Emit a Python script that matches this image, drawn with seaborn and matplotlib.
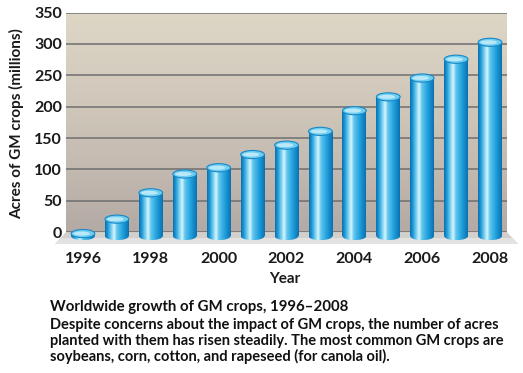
import matplotlib
import matplotlib.pyplot as plt
import matplotlib.transforms as mtransforms
import numpy as np
import seaborn as sns
from matplotlib.colors import LinearSegmentedColormap
from matplotlib.patches import Ellipse, Polygon

matplotlib.use("Agg")

# ---------------------------------------------------------------------------
# Data
# ---------------------------------------------------------------------------
YEARS = ["1996", "1997", "1998", "1999", "2000", "2001", "2002",
         "2003", "2004", "2005", "2006", "2007", "2008"]
ACRES = [4, 27, 69, 99, 109, 130, 145, 167, 200, 222, 252, 282, 309]
X_LABELS = ["1996", "", "1998", "", "2000", "", "2002",
            "", "2004", "", "2006", "", "2008"]
Y_TICKS = [0, 50, 100, 150, 200, 250, 300, 350]

CAPTION_TITLE = "Worldwide growth of GM crops, 1996\u20132008"
CAPTION_LINES = [
    "Despite concerns about the impact of GM crops, the number of acres",
    "planted with them has risen steadily. The most common GM crops are",
    "soybeans, corn, cotton, and rapeseed (for canola oil).",
]

W, H = 523, 373
FONT = ["Lato", "DejaVu Sans"]

sns.set_style("white")
plt.rcParams["font.family"] = FONT

fig = plt.figure(figsize=(W / 100, H / 100), dpi=100)
# axes: 350 line at y=12.6px, 0 line at 232px, floor front at 244px, x 66..507
ax = fig.add_axes([66 / W, (H - 244) / H, 441 / W, 231.4 / H])

# back wall gradient
wall_cmap = LinearSegmentedColormap.from_list("wall", ["#ded7c6", "#cdc4b8", "#b4aaa5"])
grad = np.linspace(0, 1, 256).reshape(-1, 1)
ax.imshow(grad, extent=(-0.5, 12.5, 0, 350), origin="upper", aspect="auto",
          cmap=wall_cmap, zorder=0)

for t in Y_TICKS:
    ax.axhline(t, color="#6f6f6f", lw=1.1, zorder=1)

# bars
sns.barplot(x=YEARS, y=ACRES, width=0.7, color="#27a9e1", ax=ax, zorder=3)
bars = list(ax.patches)

# floor (trapezoid in front of the wall)
blend = mtransforms.blended_transform_factory(ax.transAxes, ax.transData)
dx = 11 / 441
ax.add_patch(Polygon([(0, 0), (1, 0), (1 + dx, -19), (-dx, -19)], closed=True,
                     transform=blend, facecolor="#d3cfcb", edgecolor="none",
                     zorder=1.5, clip_on=False))
ax.add_patch(Polygon([(-dx * 0.5, -9.5), (1 + dx * 0.5, -9.5), (1 + dx, -19), (-dx, -19)],
                     closed=True, transform=blend, facecolor="#e4e2e0",
                     edgecolor="none", zorder=1.6, clip_on=False))

# cylinder look: bars stand on the floor, a few px in front of the wall
shift = ax.transData + mtransforms.ScaledTranslation(0, -4 / 100, fig.dpi_scale_trans)
body_cmap = LinearSegmentedColormap.from_list(
    "body",
    [(0.0, "#0b6fae"), (0.12, "#1f9ad8"), (0.28, "#86d6f3"), (0.38, "#d8f5fd"),
     (0.5, "#60c6ee"), (0.75, "#1fa0dc"), (1.0, "#0a70b1")],
)
row = np.linspace(0, 1, 200).reshape(1, -1)
eh = 13  # ellipse height in data units (~8 px)

for p in bars:
    x0, w, h = p.get_x(), p.get_width(), p.get_height()
    cx = x0 + w / 2
    p.set_transform(shift)
    p.set_facecolor("none")
    p.set_edgecolor("none")

    body = ax.imshow(row, extent=(x0, x0 + w, 0, h), aspect="auto",
                     cmap=body_cmap, zorder=3, transform=shift)
    body.set_clip_path(p)

    base = Ellipse((cx, 0), w, eh, transform=shift, facecolor="none",
                   edgecolor="none", zorder=3)
    ax.add_patch(base)
    bottom = ax.imshow(row, extent=(x0, x0 + w, -eh / 2, eh / 2), aspect="auto",
                       cmap=body_cmap, zorder=2.9, transform=shift)
    bottom.set_clip_path(base)

    ax.add_patch(Ellipse((cx, h), w, eh, transform=shift, facecolor="#6fcdf0",
                         edgecolor="#1788c8", lw=0.8, zorder=5))
    ax.add_patch(Ellipse((cx - w * 0.06, h), w * 0.7, eh * 0.5, transform=shift,
                         facecolor="#b9e9f8", edgecolor="none", zorder=5.1))

ax.set_xlim(-0.5, 12.5)
ax.set_ylim(-19, 350)
ax.set_yticks(Y_TICKS)
ax.set_yticklabels([str(t) for t in Y_TICKS], fontsize=11.5, fontweight="bold",
                   color="#1a1a1a")
ax.set_xticks(range(len(YEARS)))
ax.set_xticklabels(X_LABELS, fontsize=11.5, fontweight="bold", color="#1a1a1a")
ax.tick_params(axis="y", length=0, pad=3)
ax.tick_params(axis="x", length=0, pad=6)
ax.set_xlabel("")
ax.set_ylabel("")
sns.despine(ax=ax, left=True, bottom=True)

fig.text(17 / W, 1 - 124 / H, "Acres of GM crops (millions)", rotation=90,
         ha="center", va="center", fontsize=11, fontweight="bold", color="#1a1a1a")
fig.text(285 / W, 1 - 279 / H, "Year", ha="center", va="center",
         fontsize=11, fontweight="bold", color="#1a1a1a")

fig.text(50 / W, 1 - 310.5 / H, CAPTION_TITLE, ha="left", va="baseline",
         fontsize=10.8, fontweight="bold", color="#111111")
for i, line in enumerate(CAPTION_LINES):
    fig.text(50 / W, 1 - (329.5 + 16 * i) / H, line, ha="left", va="baseline",
             fontsize=10.5, fontweight="bold", color="#111111")

fig.savefig("out.png", dpi=100)
plt.close(fig)
